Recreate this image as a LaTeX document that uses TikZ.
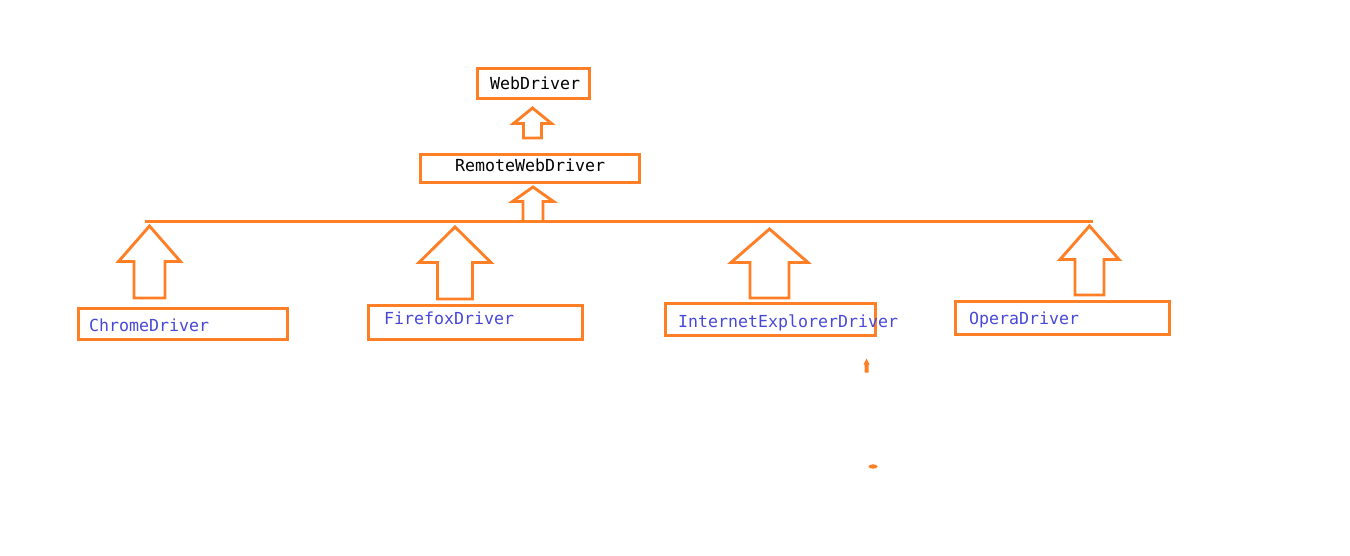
\documentclass[tikz,border=0pt]{standalone}
\usepackage{fontspec}
\setmonofont{DejaVu Sans Mono}
\usepackage{tikz}
\usetikzlibrary{positioning,calc}
\definecolor{paintorange}{HTML}{FF7F27}
\definecolor{treiberblau}{HTML}{4848D8}
\tikzset{
  klasse/.style={draw=paintorange, line width=3pt, inner sep=0pt},
  klassetext/.style={inner sep=0pt, anchor=base west, font=\ttfamily\fontsize{16.6}{18}\selectfont},
  pfeil/.style={draw=paintorange, line width=2.9pt, line join=miter},
}
\begin{document}
\begin{tikzpicture}[x=1pt,y=-1pt]
\useasboundingbox (0,0) rectangle (1350,555);
%Kästen: Mittelpunkt, Breite, Höhe in Pixeln des Originals
\node[klasse, minimum width=112pt, minimum height=30pt] (webdriverbox) at (533.5,83.5) {};
\node[klasse, minimum width=219pt, minimum height=28pt] (remotebox) at (530,168.5) {};
\node[klasse, minimum width=209pt, minimum height=31pt] (chromebox) at (183,324) {};
\node[klasse, minimum width=214pt, minimum height=34pt] (firefoxbox) at (475.5,322.5) {};
\node[klasse, minimum width=210pt, minimum height=32pt] (iebox) at (770.5,319.5) {};
\node[klasse, minimum width=214pt, minimum height=33pt] (operabox) at (1062.5,318) {};
%Beschriftungen
\node[klassetext] (webdriver) at (490,89) {WebDriver};
\node[klassetext] (remote) at (455,171.5) {RemoteWebDriver};
\node[klassetext, text=treiberblau] (chrome) at (89,331.5) {ChromeDriver};
\node[klassetext, text=treiberblau] (firefox) at (384,324) {FirefoxDriver};
\node[klassetext, text=treiberblau] (ie) at (678,327) {InternetExplorerDriver};
\node[klassetext, text=treiberblau] (opera) at (969,324) {OperaDriver};
%Sammelschiene
\coordinate (busL) at (145,221.5);
\coordinate (busR) at (1093,221.5);
\draw[pfeil] (busL) -- (busR);
%Blockpfeile: x / Spitze / halbe Kopfbreite / Kopfunterkante / halbe Schaftbreite / Schaftende
\foreach \x/\tip/\hw/\hb/\sw/\bot in {532.5/108/19/123.5/9/138, 533/187/20.5/201.5/10/221.5, 149.5/226/31/261.5/15.5/298,
  455/227/36/262.5/17.5/299, 769.5/229/38.5/262.5/19.5/298, 1089.5/226/29.5/259.5/14.5/295}{
\draw[pfeil] (\x,\tip) -- (\x+\hw,\hb) -- (\x+\sw,\hb) -- (\x+\sw,\bot) -- (\x-\sw,\bot) -- (\x-\sw,\hb) -- (\x-\hw,\hb) -- cycle;
}
%Reste
\fill[paintorange] (866.5,358.5) -- (869.5,364.5) -- (868.5,364.5) -- (868.5,372.5) -- (864.5,372.5) -- (864.5,364.5) -- (863.5,364.5) -- cycle;
\fill[paintorange] (873,466.5) ellipse [x radius=4.5pt, y radius=2.2pt];
\end{tikzpicture}
\end{document}
